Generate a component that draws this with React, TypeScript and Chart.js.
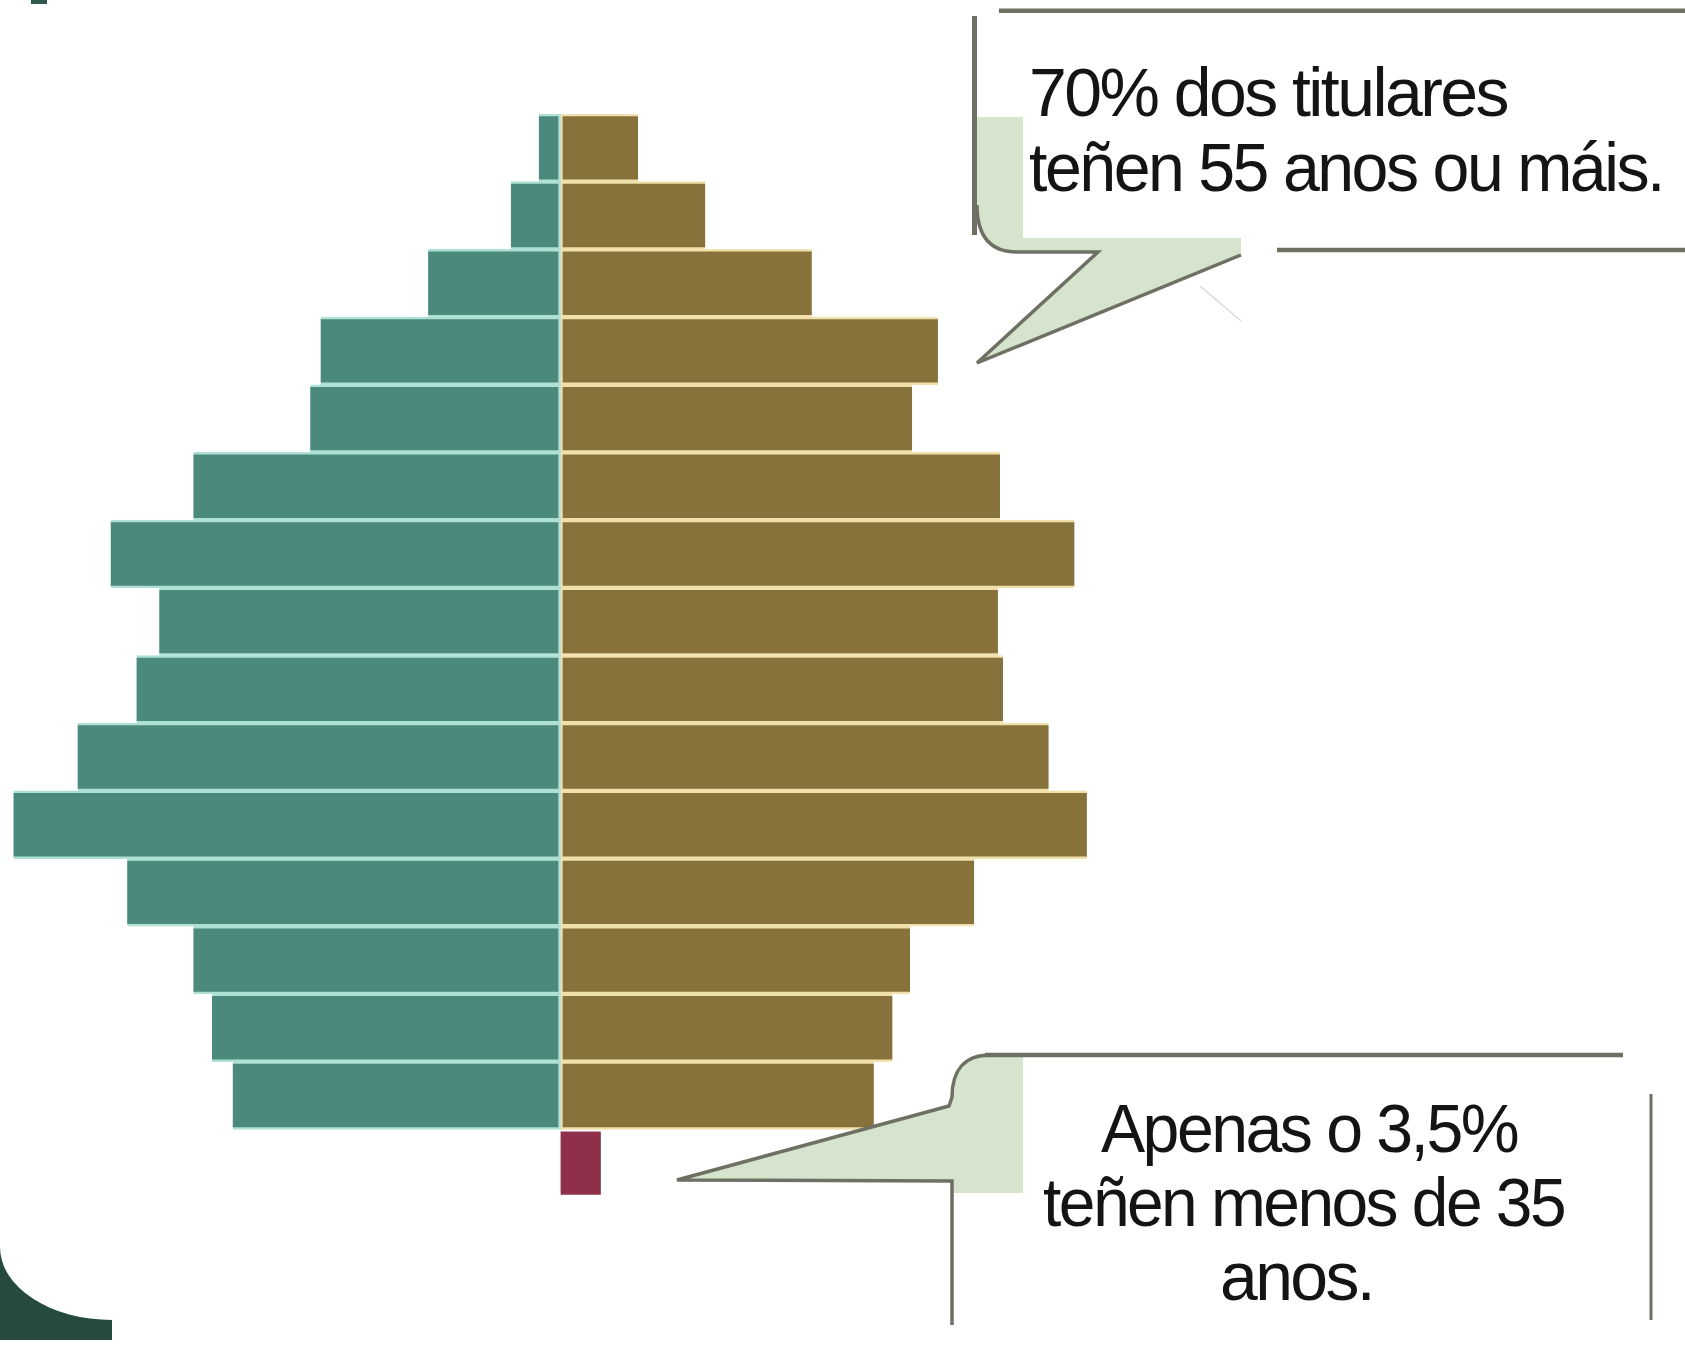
import React, { useEffect, useRef } from "react";
import { Chart, registerables } from "chart.js";

Chart.register(...registerables);

// Rows from top (oldest) to bottom (youngest); last row = under 35
const rowLabels = [
  "Tramo 15", "Tramo 14", "Tramo 13", "Tramo 12", "Tramo 11",
  "Tramo 10", "Tramo 9", "Tramo 8", "Tramo 7", "Tramo 6",
  "Tramo 5", "Tramo 4", "Tramo 3", "Tramo 2", "Tramo 1", "< 35 anos",
];

// Share of holders (%), left side (teal)
const leftShare = [0.21, 0.48, 1.28, 2.32, 2.42, 3.55, 4.35, 3.88, 4.10, 4.67, 5.29, 4.19, 3.55, 3.37, 3.17, null];
// Share of holders (%), right side (olive)
const rightShare = [0.75, 1.40, 2.43, 3.65, 3.40, 4.25, 4.97, 4.23, 4.28, 4.72, 5.09, 4.00, 3.38, 3.21, 3.03, null];
// Under-35 holders (%)
const youngShare = [null, null, null, null, null, null, null, null, null, null, null, null, null, null, null, 0.39];

const X_LIMIT = 5.42;

const topCalloutLines = ["70% dos titulares", "teñen 55 anos ou máis."];
const bottomCalloutLines = ["Apenas o 3,5%", "teñen menos de 35", "anos."];

const TEAL = "#4b897c";
const TEAL_EDGE = "#aee0d4";
const OLIVE = "#87723c";
const OLIVE_EDGE = "#f0e0ab";
const RED = "#8e304a";
const GREEN_LIGHT = "#d7e4cd";
const GRAY = "#6e7064";

export default function App() {
  const canvasRef = useRef<HTMLCanvasElement | null>(null);

  useEffect(() => {
    const canvas = canvasRef.current;
    if (!canvas) return;
    const edge = { top: 2.5, bottom: 2.5, left: 2.5, right: 2.5 };
    const chart = new Chart(canvas, {
      type: "bar",
      data: {
        labels: rowLabels,
        datasets: [
          {
            label: "Esquerda",
            data: leftShare.map((v) => (v == null ? null : -v)),
            backgroundColor: TEAL,
            borderColor: TEAL_EDGE,
            borderWidth: edge,
            borderSkipped: "end",
            barPercentage: 1,
            categoryPercentage: 1,
            stack: "s",
          },
          {
            label: "Dereita",
            data: rightShare,
            backgroundColor: OLIVE,
            borderColor: OLIVE_EDGE,
            borderWidth: edge,
            borderSkipped: "end",
            barPercentage: 1,
            categoryPercentage: 1,
            stack: "s",
          },
          {
            label: "Menores de 35",
            data: youngShare,
            backgroundColor: RED,
            borderColor: "rgba(255,255,255,0)",
            borderWidth: { top: 2.5, bottom: 2.5, left: 0, right: 0 },
            borderSkipped: false,
            barPercentage: 1,
            categoryPercentage: 1,
            stack: "s",
          },
        ],
      } as any,
      options: {
        indexAxis: "y",
        responsive: false,
        maintainAspectRatio: false,
        animation: false,
        layout: { padding: 0 },
        plugins: { legend: { display: false }, tooltip: { enabled: false } },
        scales: {
          x: { display: false, stacked: true, min: -X_LIMIT, max: X_LIMIT },
          y: { display: false, stacked: true },
        },
      } as any,
    });
    return () => chart.destroy();
  }, []);

  const textStyle: React.CSSProperties = {
    fontFamily: "'Liberation Sans', Arial, sans-serif",
    fill: "#141414",
    letterSpacing: "-2.6px",
  };

  return (
    <div
      style={{
        position: "absolute",
        left: 0,
        top: 0,
        width: 1685,
        height: 1353,
        background: "#ffffff",
        overflow: "hidden",
      }}
    >
      <canvas
        ref={canvasRef}
        width={1121}
        height={1083}
        style={{ position: "absolute", left: 0, top: 114, width: 1121, height: 1083 }}
      />
      <svg
        width={1685}
        height={1353}
        viewBox="0 0 1685 1353"
        style={{ position: "absolute", left: 0, top: 0, pointerEvents: "none" }}
      >
        {/* small mark top-left */}
        <rect x={31} y={0} width={16} height={4} fill="#2f5a4e" />

        {/* top callout */}
        <path
          d="M977,117 L1023,117 L1023,238 L1241,238 L1241,255 L977,363 L1098,252 L1017,252 Q977,252 977,212 Z"
          fill={GREEN_LIGHT}
        />
        <path
          d="M977,205 Q977,252 1017,252 L1098,252 L977,363 L1241,255"
          fill="none"
          stroke={GRAY}
          strokeWidth={3.5}
          strokeLinejoin="miter"
        />
        <line x1={974.5} y1={16} x2={974.5} y2={235} stroke={GRAY} strokeWidth={5} />
        <line x1={999} y1={10.7} x2={1685} y2={10.7} stroke={GRAY} strokeWidth={4.5} />
        <line x1={1277} y1={250} x2={1685} y2={250} stroke={GRAY} strokeWidth={4.5} />
        <line x1={1200} y1={286} x2={1241} y2={321} stroke="#d9d9d6" strokeWidth={1.5} />

        {/* bottom callout */}
        <path
          d="M677,1180 L949,1106 L952,1097 C952,1070 965,1055 990,1055 L1023,1055 L1023,1193 L952,1193 L952,1181 Z"
          fill={GREEN_LIGHT}
        />
        <path
          d="M990,1055 C965,1055 952,1070 952,1097 L949,1106 L677,1180 L952,1181 L952,1325"
          fill="none"
          stroke={GRAY}
          strokeWidth={3.5}
        />
        <line x1={985} y1={1055} x2={1623} y2={1055} stroke={GRAY} strokeWidth={4.5} />
        <line x1={1651} y1={1094} x2={1651} y2={1320} stroke={GRAY} strokeWidth={3} />

        {/* dark corner shape bottom-left */}
        <path d="M0,1247 A112,73 0 0 0 112,1320 L112,1340 L0,1340 Z" fill="#264a3d" />

        {/* texts */}
        <text x={1029} y={116} fontSize={69} textLength={478} lengthAdjust="spacingAndGlyphs" style={textStyle}>
          {topCalloutLines[0]}
        </text>
        <text x={1029} y={191} fontSize={69} textLength={634} lengthAdjust="spacingAndGlyphs" style={textStyle}>
          {topCalloutLines[1]}
        </text>
        <text x={1101} y={1152} fontSize={68} textLength={416} lengthAdjust="spacingAndGlyphs" style={textStyle}>
          {bottomCalloutLines[0]}
        </text>
        <text x={1043} y={1226} fontSize={68} textLength={521} lengthAdjust="spacingAndGlyphs" style={textStyle}>
          {bottomCalloutLines[1]}
        </text>
        <text x={1220} y={1300} fontSize={68} textLength={153} lengthAdjust="spacingAndGlyphs" style={textStyle}>
          {bottomCalloutLines[2]}
        </text>
      </svg>
    </div>
  );
}
